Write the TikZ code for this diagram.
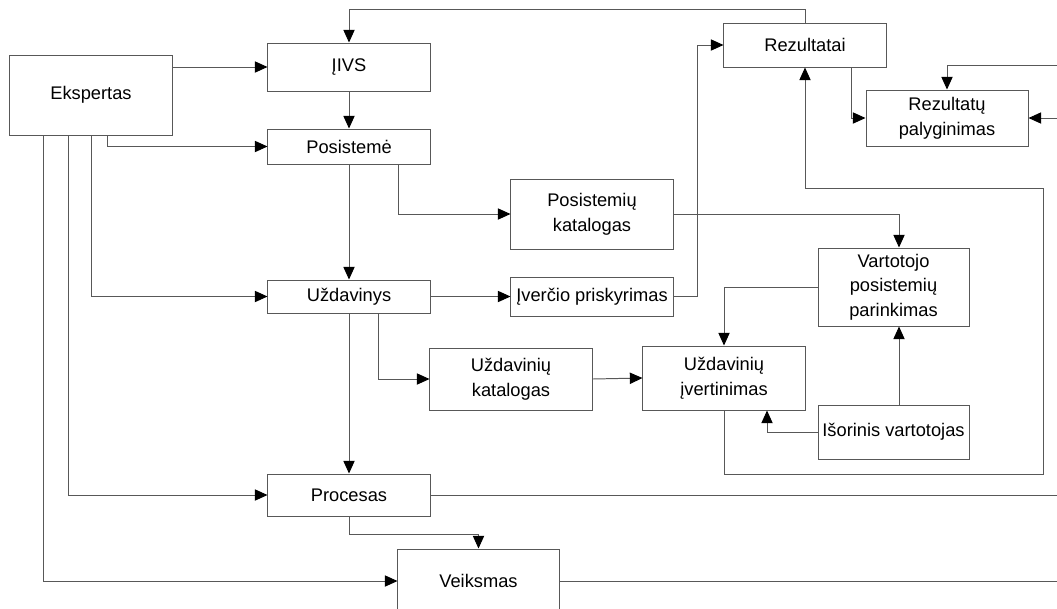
\documentclass[tikz,border=0pt]{standalone}
\usepackage{fontspec}
\setmainfont{Liberation Sans}
\usetikzlibrary{arrows.meta}
\definecolor{linegray}{RGB}{88,88,88}
\begin{document}
\begin{tikzpicture}[x=0.025cm,y=-0.025cm,
  box/.style={draw=linegray,line width=0.7pt,rectangle,inner sep=0pt,align=center,
    font=\fontsize{13}{17.5}\selectfont,fill=white},
  ln/.style={draw=linegray,line width=0.7pt},
  arr/.style={ln,-{Triangle[length=9pt,width=8pt,color=black]}}]
\useasboundingbox[fill=white] (0,0) rectangle (1057,608);

% blocks
\node[box,minimum width=4.05cm,minimum height=2cm]    (eks)    at (91,95)    {Ekspertas};
\node[box,minimum width=4.05cm,minimum height=1.2cm]  (iivs)   at (349,67)   {ĮIVS};
\node[box,minimum width=4.05cm,minimum height=0.875cm](pos)    at (349,146.5){Posistemė};
\node[box,minimum width=4.05cm,minimum height=0.825cm](uzd)    at (349,296.5){Uždavinys};
\node[box,minimum width=4.05cm,minimum height=1.05cm] (proc)   at (349,495)  {Procesas};
\node[box,minimum width=4.025cm,minimum height=1.6cm] (veik)   at (478.5,581){Veiksmas};
\node[box,minimum width=4.05cm,minimum height=1.75cm] (poskat) at (592,214)  {Posistemių\\katalogas};
\node[box,minimum width=4.05cm,minimum height=0.975cm](iver)   at (592,296.5){Įverčio priskyrimas};
\node[box,minimum width=4.05cm,minimum height=1.55cm] (uzdkat) at (511,379)  {Uždavinių\\katalogas};
\node[box,minimum width=4.05cm,minimum height=1.6cm]  (uzdiv)  at (724,378)  {Uždavinių\\įvertinimas};
\node[box,minimum width=4.05cm,minimum height=1.1cm]  (rez)    at (805,45)   {Rezultatai};
\node[box,minimum width=4.05cm,minimum height=1.4cm]  (rezpal) at (947,118)  {Rezultatų\\palyginimas};
\node[box,minimum width=3.775cm,minimum height=1.95cm](vart)   at (893.5,287){Vartotojo\\posistemių\\parinkimas};
\node[box,minimum width=3.775cm,minimum height=1.35cm](isor)   at (893.5,432){Išorinis vartotojas};

% free ends at the right border
\coordinate (inA)  at (1057,65);
\coordinate (inB)  at (1057,118);
\coordinate (outA) at (1057,495);
\coordinate (outB) at (1057,581);
\coordinate (c1)   at (1043,474);
\coordinate (c2)   at (1043,188);

% expert links
\draw[arr] (eks.east |- iivs.west) -- (iivs.west);
\draw[arr] ([xshift=0.4cm]eks.south) |- (pos.west);
\draw[arr] (eks.south) |- (uzd.west);
\draw[arr] ([xshift=-0.575cm]eks.south) |- (proc.west);
\draw[arr] ([xshift=-1.175cm]eks.south) |- (veik.west);

% main chain
\draw[arr] (iivs.south) -- (pos.north);
\draw[arr] (pos.south) -- (uzd.north);
\draw[arr] (uzd.south) -- (proc.north);
\draw[arr] (proc.south) -- ++(0,18) -| (veik.north);
\draw[ln] (proc.east) -- (outA);
\draw[ln] (veik.east) -- (outB);

% catalogues and evaluation
\draw[arr] ([xshift=1.225cm]pos.south) |- (poskat.west);
\draw[arr] (poskat.east) -| ([xshift=0.1375cm]vart.north);
\draw[arr] (uzd.east) -- (iver.west);
\draw[arr] (iver.east) -- ++(24,0) |- (rez.west);
\draw[arr] ([xshift=0.725cm]uzd.south) |- (uzdkat.west);
\draw[arr] (uzdkat.east) -- (uzdiv.west);
\draw[arr] (vart.west) -| (uzdiv.north);
\draw[arr] ([xshift=0.1375cm]isor.north) -- ([xshift=0.1375cm]vart.south);
\draw[arr] (isor.west) -| ([xshift=1.075cm]uzdiv.south);

% result loops
\draw[arr] (uzdiv.south) |- (c1) -- (c2) -| (rez.south);
\draw[arr] (rez.north) -- ++(0,-13) -| (iivs.north);
\draw[arr] ([xshift=1.15cm]rez.south) |- (rezpal.west);
\draw[arr] (inA) -| (rezpal.north);
\draw[arr] (inB) -- (rezpal.east);
\end{tikzpicture}
\end{document}
